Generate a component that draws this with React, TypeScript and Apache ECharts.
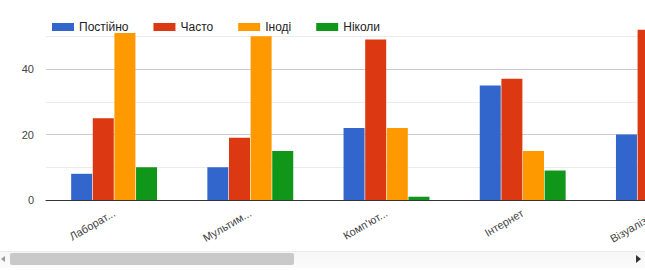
import React, { useEffect, useRef } from "react";
import * as echarts from "echarts";

const categories = ["Лаборат...", "Мультим...", "Комп'ют...", "Інтернет", "Візуаліза..."];
const seriesNames = ["Постійно", "Часто", "Іноді", "Ніколи"];
const postiino = [8, 10, 22, 35, 20];
const chasto = [25, 19, 49, 37, 52];
const inodi = [51, 50, 22, 15, null];
const nikoly = [10, 15, 1, 9, null];
const colors = ["#3366cc", "#dc3912", "#ff9900", "#109618"];
const yTickLabels = [0, 20, 40];

export default function App() {
  const ref = useRef<HTMLDivElement>(null);
  useEffect(() => {
    document.body.style.margin = "0";
    const chart = echarts.init(ref.current!, null, { renderer: "svg" });
    const values = [postiino, chasto, inodi, nikoly];
    chart.setOption({
      animation: false,
      color: colors,
      textStyle: { fontFamily: "Liberation Sans, Arial, sans-serif" },
      legend: {
        left: 47,
        top: 16,
        icon: "rect",
        itemWidth: 22,
        itemHeight: 8,
        itemGap: 25,
        textStyle: { fontSize: 12, color: "#222" },
        data: seriesNames,
      },
      grid: { left: 46, top: 3.5, width: 681, height: 196.5 },
      xAxis: {
        type: "category",
        data: categories,
        axisTick: { show: false },
        axisLine: { lineStyle: { color: "#333", width: 1 } },
        axisLabel: { rotate: 30, interval: 0, fontSize: 11, color: "#444", margin: 12 },
      },
      yAxis: {
        type: "value",
        min: 0,
        max: 60,
        interval: 10,
        axisLine: { show: false },
        axisTick: { show: false },
        axisLabel: {
          fontSize: 11,
          color: "#444",
          margin: 12,
          formatter: (v: number) => (yTickLabels.includes(v) ? String(v) : ""),
        },
        splitLine: {
          lineStyle: {
            color: ["transparent", "#ebebeb", "#cccccc", "#ebebeb", "#cccccc", "#ebebeb", "transparent"],
          },
        },
      },
      series: seriesNames.map((name, i) => ({
        name,
        type: "bar",
        data: values[i],
        barWidth: 21,
        barGap: "3%",
        itemStyle: { color: colors[i] },
      })),
    });
    return () => chart.dispose();
  }, []);

  return (
    <div style={{ position: "relative", width: 645, height: 271, overflow: "hidden", background: "#fff" }}>
      <div ref={ref} style={{ position: "absolute", left: 0, top: 0, width: 740, height: 250 }} />
      <div
        style={{
          position: "absolute",
          left: 0,
          top: 251,
          width: 645,
          height: 16,
          background: "linear-gradient(#f6f6f6, #fbfbfb)",
          borderTop: "1px solid #ececec",
        }}
      />
      <div
        style={{
          position: "absolute",
          left: 10,
          top: 253,
          width: 284,
          height: 12,
          background: "#c9c9c9",
          borderRadius: 2,
        }}
      />
      <div
        style={{
          position: "absolute",
          left: 1,
          top: 256,
          width: 0,
          height: 0,
          borderTop: "3px solid transparent",
          borderBottom: "3px solid transparent",
          borderRight: "4px solid #999",
        }}
      />
      <div
        style={{
          position: "absolute",
          left: 636,
          top: 255,
          width: 0,
          height: 0,
          borderTop: "4px solid transparent",
          borderBottom: "4px solid transparent",
          borderLeft: "5px solid #333",
        }}
      />
    </div>
  );
}
